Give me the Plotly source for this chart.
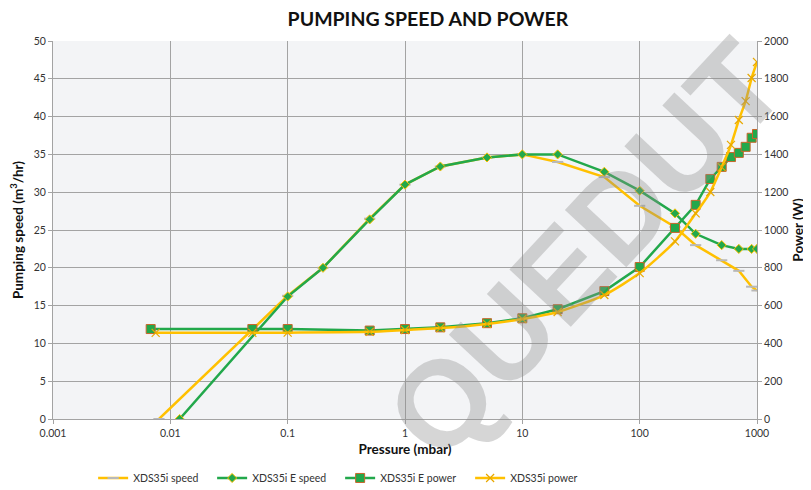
import plotly.graph_objects as go

# ---- data ----
x_ticks = [0.001, 0.01, 0.1, 1, 10, 100, 1000]
x_tick_labels = ["0.001", "0.01", "0.1", "1", "10", "100", "1000"]

xds_speed_p = [0.008, 0.1, 0.2, 0.5, 1, 2, 5, 10, 20, 50, 100, 200, 300, 500, 700, 900, 1000]
xds_speed = [0, 16.3, 20, 26.5, 31, 33.4, 34.6, 35, 34.0, 32.0, 28.2, 25.4, 23.0, 21.0, 19.6, 17.5, 17.0]

xdse_speed_p = [0.012, 0.1, 0.2, 0.5, 1, 2, 5, 10, 20, 50, 100, 200, 300, 500, 700, 900, 1000]
xdse_speed = [0, 16.2, 20, 26.4, 31, 33.4, 34.6, 35, 35, 32.7, 30.2, 27.2, 24.5, 23.0, 22.5, 22.5, 22.5]

xdse_power_p = [0.0068, 0.05, 0.1, 0.5, 1, 2, 5, 10, 20, 50, 100, 200, 300, 400, 500, 600, 700, 800, 900, 1000]
xdse_power = [476, 476, 476, 468, 476, 485, 507, 533, 581, 677, 804, 1011, 1133, 1270, 1334, 1386, 1408, 1440, 1488, 1508]

xds_power_p = [0.0075, 0.05, 0.1, 0.5, 1, 2, 5, 10, 20, 50, 100, 200, 300, 400, 500, 600, 700, 800, 900, 1000]
xds_power = [456, 456, 457, 461, 471, 481, 503, 529, 566, 656, 772, 940, 1088, 1201, 1333, 1450, 1582, 1682, 1804, 1889]

GOLD = "#ffc000"
GREEN = "#22a84b"
FONT = "Lato"

fig = go.Figure()

fig.add_trace(go.Scatter(
    x=xds_speed_p, y=xds_speed, name="XDS35i speed", mode="lines+markers",
    line=dict(color=GOLD, width=2.5),
    marker=dict(symbol="line-ew", size=8, line=dict(color="#b8b8b8", width=2)),
    legendwidth=74, yaxis="y"))

fig.add_trace(go.Scatter(
    x=xdse_speed_p, y=xdse_speed, name="XDS35i E speed", mode="lines+markers",
    line=dict(color=GREEN, width=2.5),
    marker=dict(symbol="diamond", size=7, color=GREEN, line=dict(color=GOLD, width=1)),
    legendwidth=83, yaxis="y"))

fig.add_trace(go.Scatter(
    x=xdse_power_p, y=xdse_power, name="XDS35i E power", mode="lines+markers",
    line=dict(color=GREEN, width=2.5),
    marker=dict(symbol="square", size=9, color=GREEN, line=dict(color="#c8662a", width=1)),
    legendwidth=85, yaxis="y2"))

fig.add_trace(go.Scatter(
    x=xds_power_p, y=xds_power, name="XDS35i power", mode="lines+markers",
    line=dict(color=GOLD, width=2.5, shape="spline", smoothing=0.6),
    marker=dict(symbol="x-thin", size=8, line=dict(color="#e8a800", width=1.2)),
    legendwidth=75, yaxis="y2"))

axis_common = dict(
    showgrid=True, gridcolor="#a3a3a3", gridwidth=1,
    showline=True, linecolor="#a3a3a3", linewidth=1,
    ticks="outside", ticklen=4, tickcolor="#a3a3a3",
    tickfont=dict(family=FONT, size=10.5, color="#333333"),
    zeroline=False, automargin=False,
)

# the page body adds an 8px offset, so the figure is 8px smaller than the window
fig.update_layout(
    width=803, height=482,
    margin=dict(l=45, r=54, t=33, b=71, autoexpand=False),
    paper_bgcolor="white",
    plot_bgcolor="#f3f4f6",
    font=dict(family=FONT, color="#222222"),
    title=dict(text="<b>PUMPING SPEED AND POWER</b>", x=0.523, xanchor="center",
               y=0.977, yanchor="middle", font=dict(family=FONT, size=19.5, color="#111111")),
    xaxis=dict(type="log", range=[-3, 3], tickvals=x_ticks, ticktext=x_tick_labels,
               title=dict(text="<b>Pressure (mbar)</b>", font=dict(family=FONT, size=13.5, color="#111111"),
                          standoff=6),
               **axis_common),
    yaxis=dict(range=[0, 50], dtick=5,
               title=dict(text="<b>Pumping speed (m<sup>3</sup>/hr)</b>",
                          font=dict(family=FONT, size=13.5, color="#111111"), standoff=8),
               **axis_common),
    yaxis2=dict(range=[0, 2000], dtick=200, overlaying="y", side="right",
                title=dict(text="<b>Power (W)</b>", font=dict(family=FONT, size=13.5, color="#111111"),
                           standoff=6),
                **{**axis_common, "showgrid": False}),
    legend=dict(orientation="h", x=0.057, xanchor="left", y=-0.156, yanchor="middle",
                font=dict(family=FONT, size=10.5, color="#333333"),
                bgcolor="rgba(0,0,0,0)", itemwidth=30, tracegroupgap=0),
    showlegend=True,
)

# watermark
fig.add_annotation(
    text="<b>QUEDUT</b>", xref="paper", yref="paper",
    x=(585 - 53) / 704, y=(419 - 250) / 378, xanchor="center", yanchor="middle",
    showarrow=False, textangle=-47,
    font=dict(family="Liberation Sans", size=122, color="rgba(140,140,140,0.36)"),
)

fig.write_html("out.html")
